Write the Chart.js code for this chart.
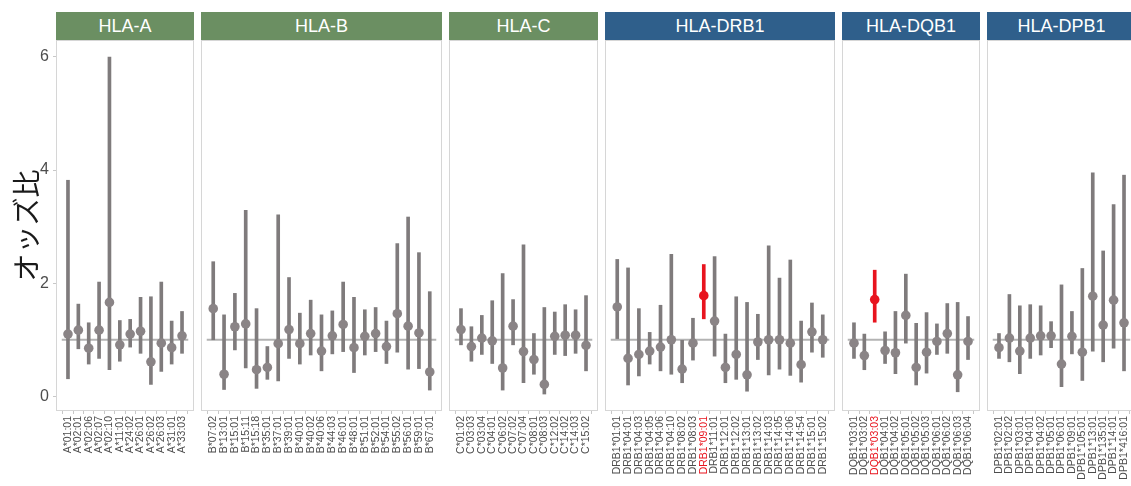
<!DOCTYPE html>
<html>
<head>
<meta charset="utf-8">
<script src="https://cdn.jsdelivr.net/npm/chart.js@4/dist/chart.umd.min.js"></script>
<style>
  html, body { margin: 0; padding: 0; background: #fff; }
  body { width: 1131px; height: 486px; overflow: hidden; position: relative; }
  .strip { position: absolute; top: 12px; height: 28px; color: #fff; font: 18px "Liberation Sans", Arial, sans-serif;
           display: flex; align-items: center; justify-content: center; }
  .panel { position: absolute; top: 40px; }
</style>
</head>
<body>
<script>
const yTicks = [0, 2, 4, 6];
const highlighted = ['DRB1*09:01', 'DQB1*03:03'];

const aLabels = ['A*01:01', 'A*02:01', 'A*02:06', 'A*02:07', 'A*02:10', 'A*11:01', 'A*24:02', 'A*26:01', 'A*26:02', 'A*26:03', 'A*31:01', 'A*33:03'];
const aOR   = [1.10, 1.17, 0.85, 1.17, 1.66, 0.91, 1.10, 1.15, 0.61, 0.94, 0.86, 1.07];
const aLow  = [0.31, 0.84, 0.57, 0.67, 0.47, 0.62, 0.87, 0.76, 0.21, 0.44, 0.57, 0.76];
const aHigh = [3.82, 1.63, 1.30, 2.02, 6.00, 1.34, 1.36, 1.75, 1.76, 2.02, 1.33, 1.50];

const bLabels = ['B*07:02', 'B*13:01', 'B*15:01', 'B*15:11', 'B*15:18', 'B*35:01', 'B*37:01', 'B*39:01', 'B*40:01', 'B*40:02', 'B*40:06',
                 'B*44:03', 'B*46:01', 'B*48:01', 'B*51:01', 'B*52:01', 'B*54:01', 'B*55:02', 'B*56:01', 'B*59:01', 'B*67:01'];
const bOR   = [1.55, 0.39, 1.23, 1.28, 0.47, 0.51, 0.93, 1.18, 0.93, 1.11, 0.80, 1.07, 1.27, 0.86, 1.06, 1.11, 0.88, 1.46, 1.24, 1.12, 0.43];
const bLow  = [1.00, 0.12, 0.82, 0.50, 0.14, 0.30, 0.27, 0.67, 0.57, 0.73, 0.45, 0.75, 0.79, 0.42, 0.73, 0.79, 0.58, 0.78, 0.48, 0.49, 0.11];
const bHigh = [2.38, 1.44, 1.82, 3.29, 1.55, 0.88, 3.21, 2.10, 1.47, 1.70, 1.44, 1.51, 2.02, 1.75, 1.53, 1.57, 1.33, 2.70, 3.17, 2.54, 1.85];

const cLabels = ['C*01:02', 'C*03:03', 'C*03:04', 'C*04:01', 'C*06:02', 'C*07:02', 'C*07:04', 'C*08:01', 'C*08:03', 'C*12:02', 'C*14:02', 'C*14:03', 'C*15:02'];
const cOR   = [1.18, 0.88, 1.03, 0.98, 0.50, 1.24, 0.79, 0.65, 0.21, 1.06, 1.08, 1.08, 0.90];
const cLow  = [0.91, 0.62, 0.74, 0.58, 0.11, 0.91, 0.24, 0.39, 0.04, 0.74, 0.72, 0.76, 0.45];
const cHigh = [1.55, 1.23, 1.43, 1.69, 2.17, 1.71, 2.68, 1.11, 1.57, 1.49, 1.62, 1.53, 1.78];

const drLabels = ['DRB1*01:01', 'DRB1*04:01', 'DRB1*04:03', 'DRB1*04:05', 'DRB1*04:06', 'DRB1*04:10', 'DRB1*08:02', 'DRB1*08:03', 'DRB1*09:01', 'DRB1*11:01',
                  'DRB1*12:01', 'DRB1*12:02', 'DRB1*13:01', 'DRB1*13:02', 'DRB1*14:03', 'DRB1*14:05', 'DRB1*14:06', 'DRB1*14:54', 'DRB1*15:01', 'DRB1*15:02'];
const drOR   = [1.58, 0.67, 0.74, 0.80, 0.87, 1.00, 0.48, 0.94, 1.78, 1.33, 0.51, 0.74, 0.38, 0.96, 1.00, 1.00, 0.94, 0.56, 1.14, 1.00];
const drLow  = [1.02, 0.20, 0.36, 0.57, 0.45, 0.39, 0.24, 0.64, 1.37, 0.71, 0.24, 0.30, 0.09, 0.65, 0.38, 0.48, 0.37, 0.25, 0.78, 0.69];
const drHigh = [2.42, 2.27, 1.55, 1.13, 1.61, 2.51, 0.99, 1.38, 2.33, 2.47, 1.10, 1.76, 1.66, 1.45, 2.66, 2.09, 2.41, 1.33, 1.65, 1.44];

const dqLabels = ['DQB1*03:01', 'DQB1*03:02', 'DQB1*03:03', 'DQB1*04:01', 'DQB1*04:02', 'DQB1*05:01', 'DQB1*05:02', 'DQB1*05:03',
                  'DQB1*06:01', 'DQB1*06:02', 'DQB1*06:03', 'DQB1*06:04'];
const dqOR   = [0.94, 0.72, 1.71, 0.81, 0.77, 1.43, 0.51, 0.78, 0.97, 1.11, 0.38, 0.97];
const dqLow  = [0.67, 0.47, 1.31, 0.58, 0.40, 0.94, 0.20, 0.41, 0.74, 0.76, 0.08, 0.65];
const dqHigh = [1.30, 1.10, 2.23, 1.14, 1.50, 2.16, 1.29, 1.48, 1.28, 1.64, 1.66, 1.41];

const dpLabels = ['DPB1*02:01', 'DPB1*02:02', 'DPB1*03:01', 'DPB1*04:01', 'DPB1*04:02', 'DPB1*05:01', 'DPB1*06:01', 'DPB1*09:01',
                  'DPB1*105:01', 'DPB1*13:01', 'DPB1*135:01', 'DPB1*14:01', 'DPB1*416:01'];
const dpOR   = [0.86, 1.03, 0.80, 1.03, 1.07, 1.07, 0.57, 1.06, 0.78, 1.77, 1.26, 1.70, 1.30];
const dpLow  = [0.67, 0.61, 0.40, 0.67, 0.73, 0.86, 0.17, 0.75, 0.28, 0.80, 0.61, 0.85, 0.45];
const dpHigh = [1.11, 1.80, 1.60, 1.62, 1.60, 1.32, 1.97, 1.50, 2.26, 3.95, 2.57, 3.39, 3.91];

const GREEN = '#6b8f62', BLUE = '#2f5f8b';
const GRAY_BAR = '#7f7b7c', GRAY_PT = '#8a8486', RED = '#e8141e';
const TEXT = '#4d4d4d', FONT = '"Liberation Sans", Arial, sans-serif';

// facet name, data, strip colour, panel left/right in page px
const panels = [
  { name: 'HLA-A',    labels: aLabels,  or: aOR,  low: aLow,  high: aHigh,  color: GREEN, left: 56,  right: 194 },
  { name: 'HLA-B',    labels: bLabels,  or: bOR,  low: bLow,  high: bHigh,  color: GREEN, left: 201, right: 442 },
  { name: 'HLA-C',    labels: cLabels,  or: cOR,  low: cLow,  high: cHigh,  color: GREEN, left: 449, right: 598 },
  { name: 'HLA-DRB1', labels: drLabels, or: drOR, low: drLow, high: drHigh, color: BLUE,  left: 605, right: 835 },
  { name: 'HLA-DQB1', labels: dqLabels, or: dqOR, low: dqLow, high: dqHigh, color: BLUE,  left: 842, right: 980 },
  { name: 'HLA-DPB1', labels: dpLabels, or: dpOR, low: dpLow, high: dpHigh, color: BLUE,  left: 987, right: 1136 }
];

const panelBorder = {
  id: 'panelBorder',
  afterDatasetsDraw(chart) {
    const a = chart.chartArea, c = chart.ctx;
    c.save();
    c.strokeStyle = '#d6d6d6';
    c.lineWidth = 1;
    c.strokeRect(a.left + 0.5, a.top + 0.5, a.right - a.left - 1, a.bottom - a.top - 1);
    c.restore();
  }
};

panels.forEach((p, k) => {
  const first = k === 0;
  const canvasLeft = first ? 0 : p.left;
  const width = p.right - canvasLeft;

  const strip = document.createElement('div');
  strip.className = 'strip';
  strip.style.left = p.left + 'px';
  strip.style.width = (p.right - p.left) + 'px';
  strip.style.background = p.color;
  strip.textContent = p.name;
  document.body.appendChild(strip);

  const wrap = document.createElement('div');
  wrap.className = 'panel';
  wrap.style.left = canvasLeft + 'px';
  const canvas = document.createElement('canvas');
  canvas.width = width;
  canvas.height = 446;
  wrap.appendChild(canvas);
  document.body.appendChild(wrap);

  const isHi = i => highlighted.includes(p.labels[i]);
  const n = p.labels.length;

  new Chart(canvas, {
    type: 'scatter',
    data: {
      datasets: [
        {
          type: 'line',
          data: [{ x: -0.6, y: 1 }, { x: n - 0.4, y: 1 }],
          borderColor: '#b3b3b3',
          borderWidth: 2,
          pointRadius: 0,
          order: 3
        },
        {
          type: 'bar',
          data: p.labels.map((l, i) => ({ x: i, y: [p.low[i], p.high[i]] })),
          backgroundColor: c => isHi(c.dataIndex) ? RED : GRAY_BAR,
          barThickness: 3,
          borderWidth: 0,
          grouped: false,
          order: 2
        },
        {
          type: 'scatter',
          data: p.labels.map((l, i) => ({ x: i, y: p.or[i] })),
          backgroundColor: c => isHi(c.dataIndex) ? RED : GRAY_PT,
          pointRadius: 4.8,
          borderWidth: 0,
          order: 1
        }
      ]
    },
    options: {
      responsive: false,
      animation: false,
      layout: { padding: 0, autoPadding: false },
      plugins: { legend: { display: false }, tooltip: { enabled: false } },
      scales: {
        x: {
          type: 'linear',
          min: -0.6,
          max: n - 0.4,
          afterBuildTicks: s => { s.ticks = p.labels.map((l, i) => ({ value: i })); },
          afterFit: s => { s.height = 75; s.paddingLeft = 0; s.paddingRight = 0; },
          ticks: {
            autoSkip: false,
            minRotation: 90,
            maxRotation: 90,
            padding: 2,
            font: { family: FONT, size: 10.5 },
            color: c => isHi(c.index) ? RED : TEXT,
            callback: v => p.labels[v]
          },
          grid: { drawOnChartArea: false, drawTicks: true, tickLength: 3, color: '#c8c8c8' },
          border: { display: false }
        },
        y: {
          display: first,
          min: -0.26,
          max: 6.3,
          afterBuildTicks: s => { s.ticks = yTicks.map(v => ({ value: v })); },
          afterFit: s => { if (first) s.width = 56; s.paddingTop = 0; s.paddingBottom = 0; },
          ticks: {
            padding: 4,
            font: { family: FONT, size: 16 },
            color: TEXT
          },
          grid: { drawOnChartArea: false, drawTicks: true, tickLength: 3, color: '#c8c8c8' },
          border: { display: false },
          title: {
            display: true,
            text: 'オッズ比',
            color: '#1a1a1a',
            font: { family: '"Noto Sans CJK JP"', size: 28 },
            padding: { top: 10, bottom: 0 }
          }
        }
      }
    },
    plugins: [panelBorder]
  });
});
</script>
</body>
</html>
